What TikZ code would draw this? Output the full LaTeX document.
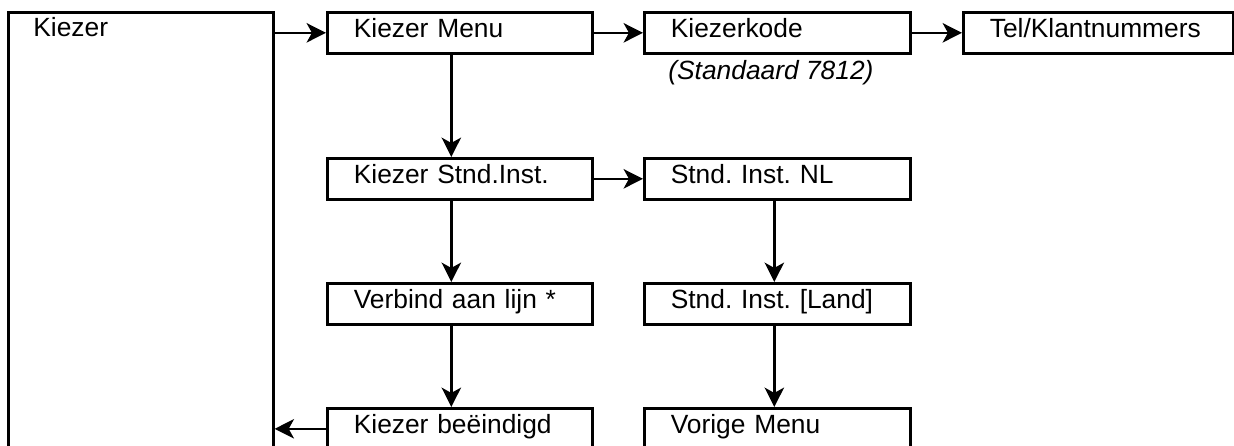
\documentclass[tikz,border=0pt]{standalone}
\usepackage{fontspec}
\setmainfont{Liberation Sans}
\usepackage{tikz}
\usetikzlibrary{positioning, calc, arrows.meta}
\frenchspacing

\begin{document}
\begin{tikzpicture}[
    box/.style={draw, line width=1.5pt, anchor=north west, minimum height=0.82cm,
      inner xsep=0.53cm, inner ysep=0pt, text width=#1, align=left,
      text height=10.5pt, text depth=5pt, font=\fontsize{15}{18}\selectfont},
    arr/.style={line width=1.4pt, -{Stealth[length=11pt, width=11pt, inset=3pt]}}
  ]
      \clip (0,0) rectangle (24.68,-8.92);

      % Kiezer (left column)
      \node[draw, line width=1.5pt, anchor=north west, minimum width=5.3cm,
            minimum height=9.5cm, inner sep=0pt] (kiezer) at (0.14,-0.22) {};
      \node[anchor=base west, inner sep=0pt, font=\fontsize{15}{18}\selectfont]
            (kiezerlbl) at (0.66,-0.72) {Kiezer};

      % Top row
      \node[box=4.24cm] (menu) at (6.52,-0.22) {Kiezer Menu};
      \node[box=4.26cm] (kode) at (12.86,-0.22) {Kiezerkode};
      \node[box=4.34cm] (telnr) at (19.24,-0.22) {Tel/Klantnummers};
      \node[anchor=west, inner sep=0pt, font=\fontsize{15}{18}\selectfont\itshape]
            (kodenote) at (13.36,-1.46) {(Standaard 7812)};

      % Second row
      \node[box=4.24cm] (stnd) at (6.52,-3.14) {Kiezer Stnd.Inst.};
      \node[box=4.26cm] (nl) at (12.86,-3.14) {Stnd. Inst. NL};

      % Third row
      \node[box=4.24cm] (verbind) at (6.52,-5.64) {Verbind aan lijn *};
      \node[box=4.26cm] (land) at (12.86,-5.64) {Stnd. Inst. [Land]};

      % Bottom row
      \node[box=4.24cm] (einde) at (6.52,-8.14) {Kiezer be\"eindigd};
      \node[box=4.26cm] (vorige) at (12.86,-8.14) {Vorige Menu};

      % Connectors
      \draw[arr] (kiezer.east |- menu.west) -- (menu.west);
      \draw[arr] (menu.east) -- (kode.west);
      \draw[arr] (kode.east) -- (telnr.west);
      \draw[arr] ([xshift=-0.17cm]menu.south) -- ([xshift=-0.17cm]stnd.north);
      \draw[arr] (stnd.east) -- (nl.west);
      \draw[arr] ([xshift=-0.17cm]stnd.south) -- ([xshift=-0.17cm]verbind.north);
      \draw[arr] ([xshift=-0.06cm]nl.south) -- ([xshift=-0.06cm]land.north);
      \draw[arr] ([xshift=-0.17cm]verbind.south) -- ([xshift=-0.17cm]einde.north);
      \draw[arr] ([xshift=-0.06cm]land.south) -- ([xshift=-0.06cm]vorige.north);
      \draw[arr] (einde.west) -- (kiezer.east |- einde.west);
    \end{tikzpicture}
\end{document}
